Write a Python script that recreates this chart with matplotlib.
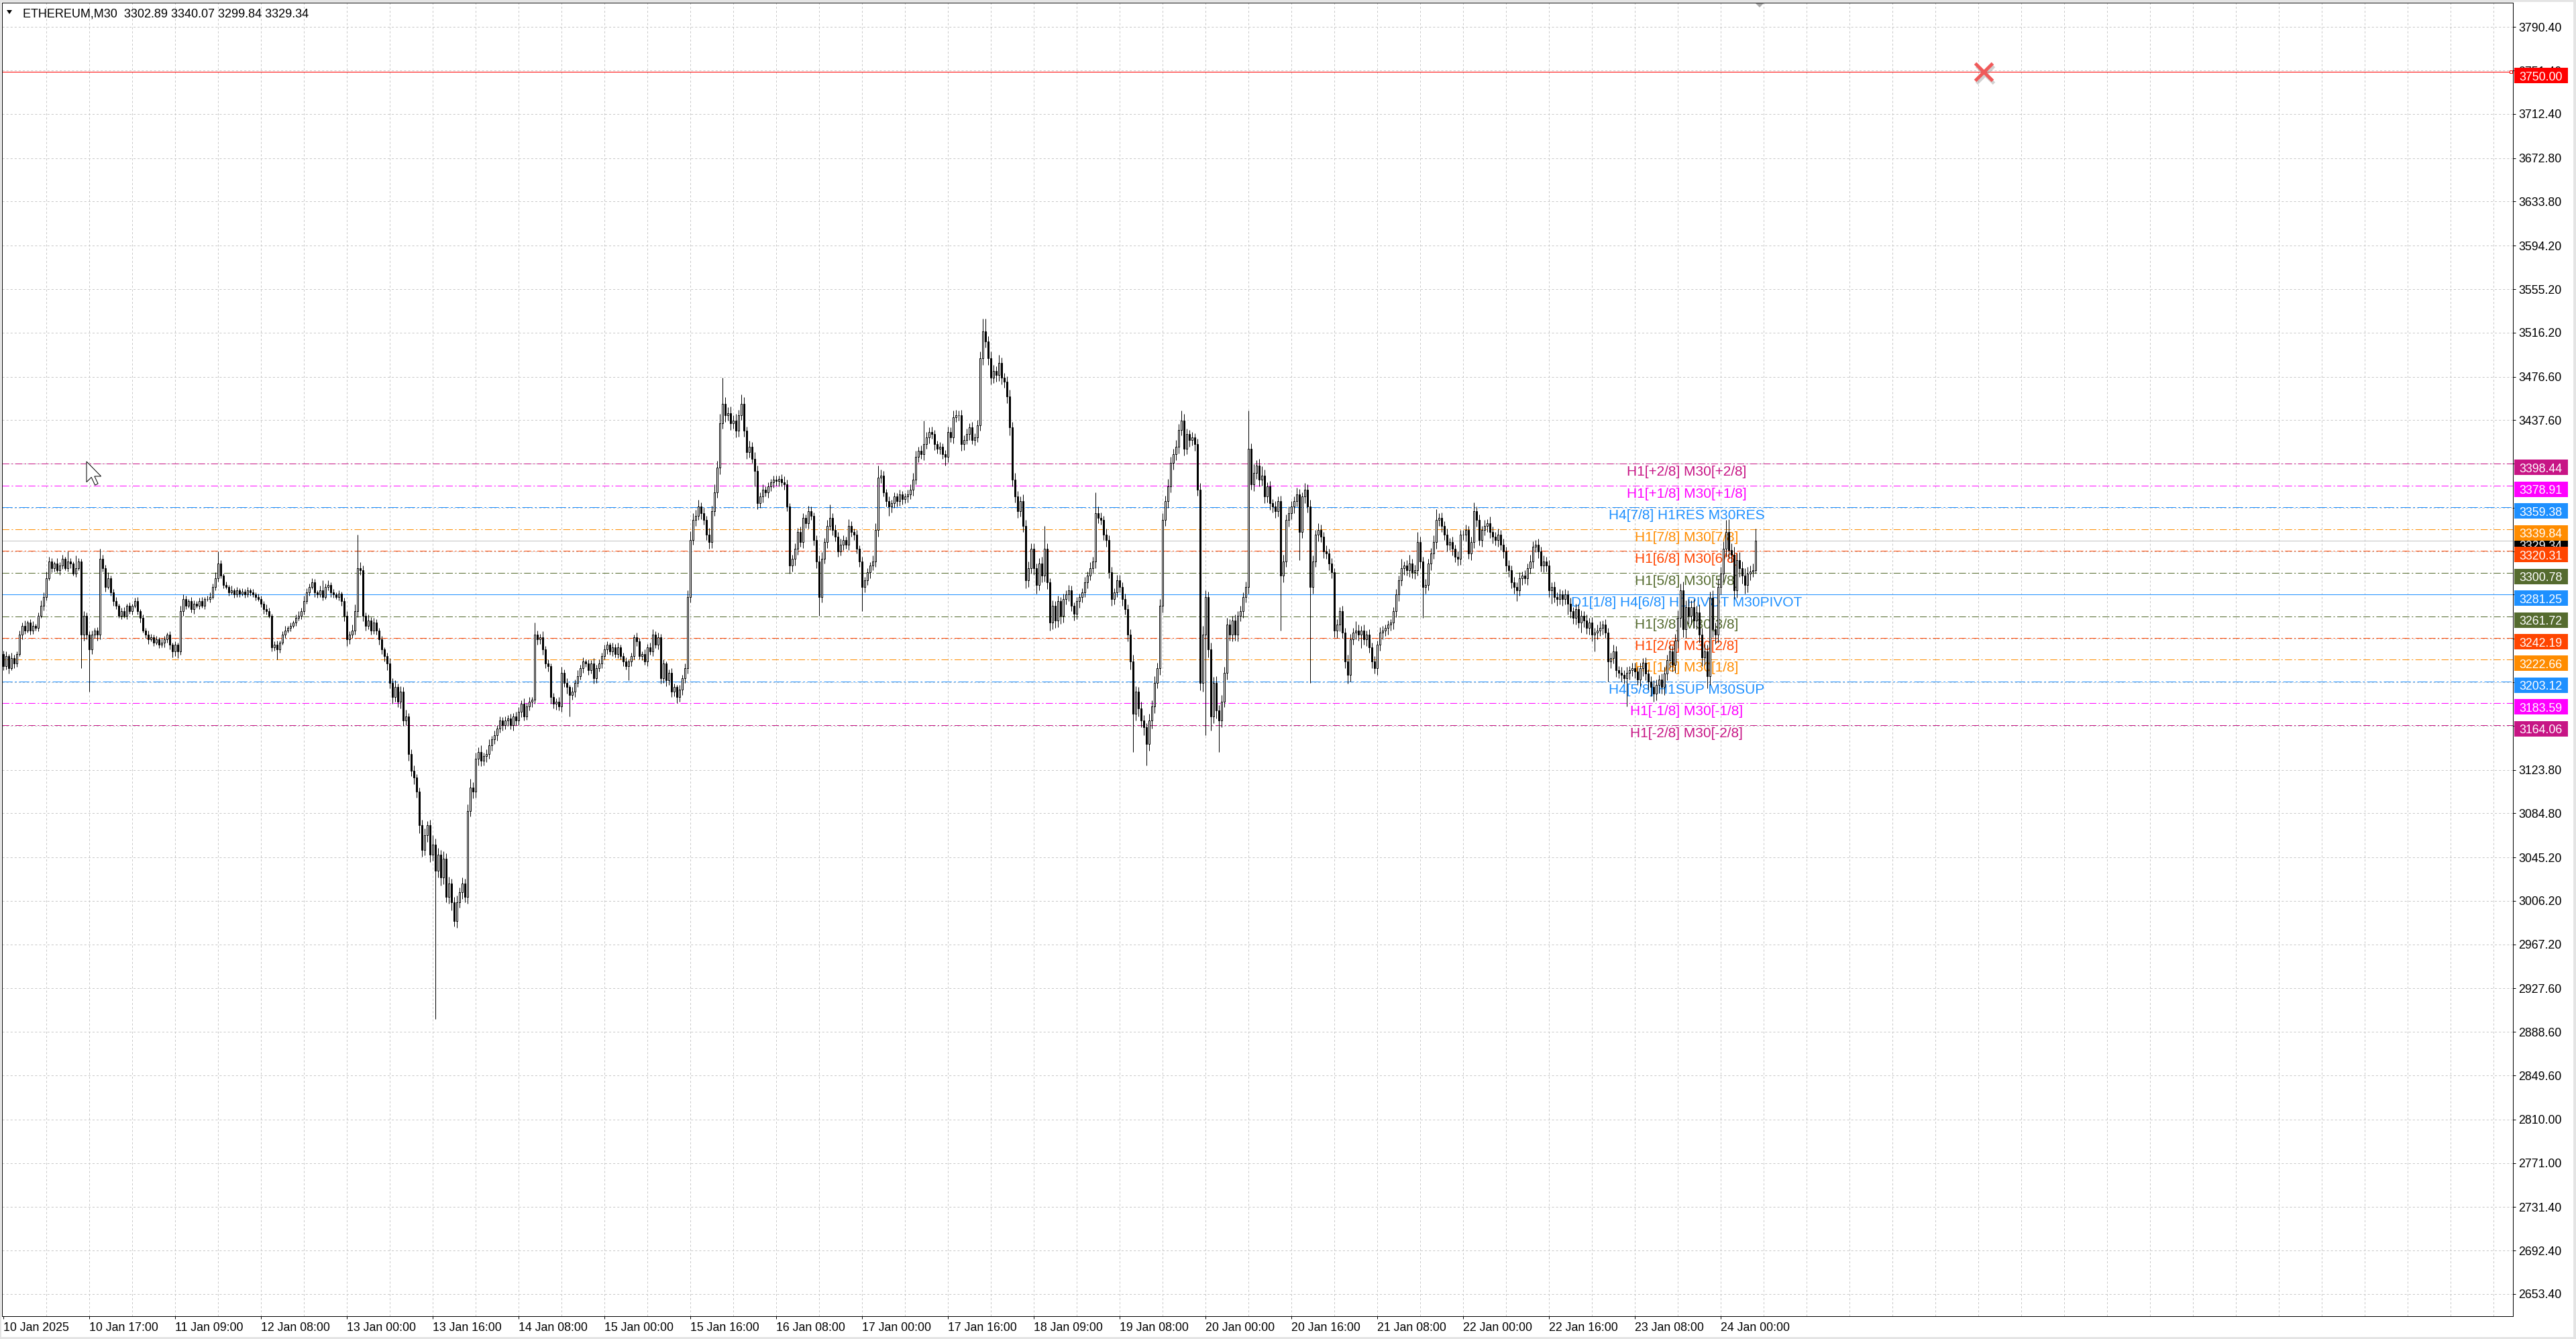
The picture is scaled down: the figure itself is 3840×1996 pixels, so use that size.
import matplotlib
matplotlib.use("Agg")
import matplotlib.pyplot as plt
import numpy as np
from matplotlib.patches import Rectangle, Polygon
from matplotlib.transforms import IdentityTransform, offset_copy

# --- Chart data (ETHEREUM, M30) ---
SYMBOL_LINE = "ETHEREUM,M30  3302.89 3340.07 3299.84 3329.34"
FIRST_OPEN = 3228
# closes per bar, 16 bars per row (one grid cell)
CLOSES = [
    3217, 3226, 3215, 3224, 3219, 3228, 3245, 3253, 3249, 3256, 3249, 3253, 3251, 3262, 3271, 3279,
    3296, 3311, 3305, 3309, 3303, 3307, 3313, 3305, 3311, 3309, 3300, 3305, 3311, 3245, 3262, 3245,
    3232, 3245, 3249, 3245, 3313, 3305, 3288, 3296, 3283, 3275, 3271, 3262, 3266, 3262, 3271, 3266,
    3271, 3275, 3266, 3260, 3249, 3245, 3241, 3243, 3238, 3241, 3236, 3238, 3241, 3245, 3236, 3230,
    3236, 3230, 3266, 3277, 3271, 3275, 3268, 3273, 3271, 3275, 3271, 3277, 3277, 3279, 3288, 3296,
    3309, 3298, 3290, 3288, 3283, 3285, 3281, 3285, 3282, 3284, 3281, 3285, 3283, 3281, 3279, 3277,
    3273, 3268, 3266, 3262, 3234, 3236, 3232, 3238, 3245, 3249, 3251, 3253, 3256, 3260, 3262, 3266,
    3275, 3283, 3288, 3292, 3283, 3281, 3285, 3279, 3288, 3290, 3283, 3281, 3279, 3282, 3275, 3262,
    3241, 3245, 3249, 3266, 3305, 3303, 3262, 3253, 3258, 3249, 3256, 3249, 3241, 3232, 3226, 3219,
    3202, 3189, 3198, 3185, 3194, 3168, 3172, 3138, 3123, 3117, 3104, 3074, 3052, 3065, 3074, 3048,
    3057, 3033, 3048, 3027, 3044, 3010, 3022, 3005, 2988, 3005, 3014, 3022, 3010, 3087, 3108, 3104,
    3134, 3140, 3132, 3136, 3138, 3146, 3151, 3155, 3161, 3168, 3164, 3168, 3170, 3164, 3172, 3168,
    3176, 3183, 3172, 3181, 3185, 3187, 3245, 3241, 3243, 3232, 3219, 3217, 3189, 3183, 3185, 3181,
    3211, 3202, 3198, 3191, 3194, 3202, 3208, 3215, 3221, 3219, 3213, 3219, 3206, 3215, 3219, 3226,
    3232, 3236, 3230, 3234, 3228, 3234, 3226, 3221, 3217, 3221, 3226, 3243, 3239, 3226, 3228, 3221,
    3234, 3230, 3245, 3236, 3243, 3206, 3219, 3204, 3211, 3194, 3198, 3189, 3196, 3206, 3215, 3279,
    3330, 3348, 3352, 3360, 3354, 3348, 3335, 3328, 3356, 3373, 3395, 3435, 3452, 3442, 3444, 3435,
    3437, 3428, 3442, 3452, 3428, 3409, 3414, 3403, 3392, 3363, 3369, 3375, 3373, 3378, 3382, 3384,
    3383, 3385, 3382, 3380, 3360, 3307, 3313, 3322, 3337, 3328, 3350, 3345, 3356, 3352, 3330, 3311,
    3279, 3313, 3328, 3343, 3350, 3339, 3333, 3320, 3326, 3330, 3326, 3343, 3337, 3335, 3322, 3311,
    3288, 3294, 3301, 3307, 3311, 3339, 3386, 3388, 3373, 3365, 3360, 3363, 3369, 3365, 3371, 3367,
    3369, 3371, 3375, 3384, 3405, 3410, 3407, 3416, 3422, 3427, 3425, 3416, 3412, 3414, 3407, 3405,
    3427, 3422, 3440, 3442, 3442, 3416, 3420, 3425, 3431, 3420, 3422, 3433, 3493, 3517, 3508, 3493,
    3476, 3482, 3478, 3489, 3476, 3472, 3459, 3431, 3384, 3369, 3356, 3365, 3343, 3294, 3305, 3322,
    3305, 3290, 3309, 3298, 3322, 3292, 3256, 3271, 3258, 3275, 3262, 3277, 3281, 3285, 3271, 3264,
    3275, 3279, 3283, 3292, 3298, 3305, 3311, 3354, 3350, 3348, 3335, 3330, 3301, 3277, 3283, 3294,
    3288, 3277, 3268, 3245, 3221, 3174, 3194, 3179, 3168, 3162, 3147, 3168, 3181, 3202, 3215, 3271,
    3348, 3365, 3378, 3399, 3407, 3414, 3429, 3437, 3412, 3425, 3420, 3422, 3416, 3375, 3202, 3245,
    3279, 3232, 3172, 3202, 3177, 3168, 3185, 3211, 3254, 3245, 3258, 3245, 3262, 3266, 3279, 3288,
    3412, 3380, 3390, 3397, 3384, 3388, 3369, 3378, 3363, 3360, 3356, 3365, 3298, 3311, 3348, 3354,
    3360, 3365, 3371, 3337, 3369, 3375, 3360, 3288, 3311, 3335, 3339, 3333, 3320, 3318, 3309, 3301,
    3249, 3254, 3266, 3247, 3221, 3209, 3241, 3247, 3249, 3245, 3249, 3241, 3245, 3234, 3221, 3215,
    3236, 3247, 3249, 3251, 3254, 3256, 3266, 3281, 3294, 3305, 3307, 3303, 3309, 3301, 3303, 3328,
    3311, 3288, 3290, 3309, 3318, 3328, 3348, 3350, 3343, 3335, 3326, 3328, 3322, 3315, 3313, 3335,
    3335, 3339, 3318, 3328, 3356, 3348, 3330, 3339, 3343, 3345, 3337, 3333, 3330, 3335, 3326, 3320,
    3307, 3303, 3292, 3288, 3285, 3296, 3298, 3296, 3305, 3311, 3324, 3326, 3320, 3307, 3311, 3307,
    3285, 3288, 3279, 3277, 3281, 3277, 3281, 3273, 3266, 3260, 3268, 3256, 3262, 3258, 3251, 3256,
    3245, 3247, 3249, 3251, 3254, 3247, 3221, 3224, 3230, 3213, 3211, 3209, 3206, 3211, 3213, 3215,
    3212, 3205, 3215, 3220, 3210, 3203, 3198, 3192, 3200, 3205, 3198, 3210, 3222, 3230, 3218, 3240,
    3260, 3285, 3250, 3270, 3262, 3270, 3258, 3265, 3245, 3225, 3230, 3208, 3278, 3250, 3245, 3288,
    3300, 3322, 3337, 3321, 3317, 3285, 3312, 3305, 3298, 3290, 3300, 3302, 3302.89, 3329.34,
]
# wick length above the body top / below the body bottom, per bar
UPPER_WICK = [
    3, 4, 2, 5, 3, 2, 4, 3, 5, 2, 3, 4, 2, 3, 5, 4,
    6, 4, 3, 2, 5, 3, 4, 2, 9, 3, 2, 11, 3, 2, 4, 3,
    3, 4, 2, 3, 9, 4, 3, 5, 2, 3, 4, 2, 3, 4, 2, 3,
    2, 3, 4, 2, 3, 2, 4, 3, 2, 3, 2, 4, 3, 2, 3, 2,
    3, 2, 5, 4, 3, 2, 4, 3, 2, 3, 4, 2, 3, 4, 3, 5,
    11, 3, 2, 3, 2, 4, 2, 3, 2, 3, 2, 3, 2, 3, 2, 3,
    3, 2, 4, 3, 2, 3, 4, 2, 3, 4, 2, 3, 2, 3, 4, 3,
    5, 4, 3, 4, 3, 2, 4, 9, 3, 4, 2, 3, 2, 3, 2, 3,
    4, 3, 5, 6, 30, 5, 4, 3, 5, 3, 4, 3, 2, 3, 2, 3,
    5, 4, 6, 3, 5, 4, 6, 3, 4, 5, 3, 4, 5, 6, 4, 5,
    8, 5, 6, 4, 7, 5, 6, 4, 5, 6, 4, 5, 4, 6, 8, 5,
    5, 4, 6, 3, 4, 5, 3, 4, 3, 4, 3, 4, 3, 4, 3, 4,
    4, 3, 5, 3, 4, 2, 11, 4, 3, 5, 3, 4, 2, 4, 3, 4,
    5, 3, 4, 2, 4, 3, 5, 3, 4, 2, 4, 3, 5, 3, 4, 3,
    4, 3, 2, 4, 3, 4, 2, 3, 4, 2, 3, 2, 4, 3, 2, 4,
    3, 4, 5, 3, 4, 3, 4, 2, 3, 4, 3, 2, 4, 3, 4, 6,
    8, 6, 5, 6, 4, 5, 4, 6, 5, 7, 6, 8, 24, 6, 5, 6,
    5, 6, 5, 9, 6, 4, 5, 4, 6, 5, 4, 5, 3, 4, 3, 4,
    4, 3, 4, 5, 4, 3, 4, 5, 4, 5, 4, 3, 5, 4, 3, 4,
    5, 6, 4, 5, 12, 4, 5, 4, 5, 4, 3, 6, 4, 3, 4, 3,
    4, 3, 4, 3, 5, 6, 11, 5, 4, 3, 4, 3, 4, 3, 4, 3,
    3, 4, 5, 6, 5, 4, 5, 21, 5, 4, 5, 4, 3, 4, 3, 4,
    5, 4, 6, 5, 4, 5, 4, 5, 4, 5, 4, 5, 6, 12, 12, 5,
    6, 5, 4, 7, 5, 4, 5, 6, 5, 6, 5, 4, 6, 5, 6, 5,
    5, 4, 5, 6, 21, 5, 4, 5, 4, 5, 4, 5, 4, 5, 4, 3,
    4, 3, 4, 5, 4, 5, 4, 19, 6, 5, 4, 5, 4, 5, 4, 5,
    5, 4, 5, 4, 5, 6, 5, 4, 6, 5, 4, 6, 5, 6, 5, 6,
    6, 5, 7, 6, 5, 6, 5, 9, 6, 5, 4, 5, 4, 5, 6, 8,
    6, 5, 6, 5, 6, 5, 6, 5, 6, 5, 4, 5, 4, 5, 4, 5,
    34, 5, 8, 5, 6, 8, 5, 4, 5, 4, 5, 4, 5, 6, 5, 6,
    5, 4, 6, 5, 4, 6, 5, 6, 5, 4, 6, 5, 4, 5, 4, 5,
    4, 5, 4, 5, 4, 6, 5, 4, 8, 5, 4, 5, 4, 5, 4, 5,
    4, 5, 4, 3, 4, 3, 4, 5, 4, 8, 4, 5, 8, 4, 5, 9,
    5, 4, 5, 4, 5, 6, 10, 4, 5, 4, 5, 4, 5, 4, 5, 4,
    4, 5, 4, 5, 8, 4, 5, 4, 5, 4, 6, 5, 4, 5, 4, 5,
    4, 5, 4, 5, 4, 5, 4, 5, 4, 6, 5, 4, 5, 4, 5, 4,
    5, 4, 5, 4, 5, 4, 5, 4, 5, 4, 5, 4, 5, 4, 5, 4,
    5, 4, 5, 6, 4, 5, 4, 5, 6, 5, 4, 5, 4, 5, 4, 5,
    5, 4, 5, 4, 5, 4, 5, 6, 5, 4, 5, 6, 5, 6, 5, 6,
    7, 6, 8, 6, 7, 6, 7, 6, 7, 6, 7, 6, 6, 7, 6, 7,
    6, 7, 11, 12, 6, 7, 6, 7, 6, 7, 6, 5, 6, 10.73,
]
LOWER_WICK = [
    4, 3, 5, 2, 4, 3, 2, 4, 3, 2, 4, 3, 2, 3, 2, 4,
    3, 2, 4, 3, 2, 4, 3, 2, 3, 4, 2, 3, 2, 30, 5, 4,
    38, 4, 3, 5, 4, 3, 4, 2, 3, 4, 3, 2, 3, 2, 3, 2,
    3, 2, 3, 4, 2, 3, 4, 2, 3, 2, 3, 2, 4, 3, 4, 5,
    4, 6, 3, 4, 3, 2, 3, 4, 2, 3, 2, 3, 2, 3, 2, 3,
    3, 2, 3, 2, 3, 2, 3, 2, 3, 2, 3, 2, 3, 2, 3, 2,
    3, 4, 3, 2, 4, 3, 9, 3, 2, 3, 2, 3, 2, 3, 2, 3,
    3, 2, 3, 2, 4, 3, 2, 3, 2, 3, 4, 3, 2, 3, 4, 5,
    6, 4, 3, 4, 5, 4, 5, 4, 3, 4, 3, 4, 5, 4, 5, 6,
    5, 6, 4, 5, 6, 5, 4, 6, 5, 6, 5, 7, 6, 5, 6, 7,
    6, 133, 6, 7, 6, 5, 6, 7, 5, 6, 5, 6, 5, 6, 5, 6,
    5, 6, 5, 4, 5, 4, 5, 4, 5, 4, 5, 4, 5, 4, 5, 4,
    4, 5, 4, 3, 4, 5, 4, 5, 4, 5, 4, 5, 6, 4, 5, 4,
    5, 4, 6, 19, 4, 5, 4, 3, 4, 3, 4, 3, 5, 4, 3, 4,
    3, 4, 3, 4, 3, 4, 3, 4, 3, 13, 4, 3, 4, 3, 4, 3,
    4, 3, 4, 3, 4, 5, 4, 5, 4, 5, 4, 5, 4, 5, 4, 5,
    5, 4, 5, 4, 5, 4, 5, 6, 5, 4, 5, 6, 5, 6, 5, 6,
    5, 6, 5, 4, 5, 6, 5, 4, 14, 5, 4, 5, 4, 5, 4, 5,
    4, 5, 4, 5, 4, 7, 5, 6, 5, 4, 5, 4, 5, 4, 5, 6,
    17, 5, 4, 5, 4, 5, 4, 5, 4, 5, 4, 5, 4, 5, 4, 5,
    22, 5, 4, 5, 4, 5, 6, 5, 4, 5, 8, 5, 4, 5, 4, 5,
    4, 5, 4, 5, 4, 5, 4, 5, 4, 5, 4, 5, 4, 5, 4, 8,
    5, 4, 5, 4, 5, 6, 5, 4, 5, 4, 5, 4, 5, 6, 5, 6,
    6, 5, 6, 5, 6, 5, 6, 7, 6, 5, 6, 5, 6, 7, 6, 5,
    6, 8, 5, 6, 5, 6, 7, 6, 7, 6, 7, 6, 5, 6, 5, 6,
    5, 6, 5, 4, 5, 4, 5, 6, 5, 4, 5, 6, 5, 6, 5, 4,
    5, 6, 5, 6, 7, 34, 6, 7, 6, 7, 19, 6, 7, 6, 5, 6,
    6, 5, 6, 5, 6, 5, 6, 5, 6, 5, 6, 5, 6, 5, 7, 8,
    90, 7, 13, 6, 7, 28, 6, 5, 6, 5, 6, 5, 6, 5, 6, 5,
    6, 5, 6, 5, 6, 5, 6, 5, 6, 5, 6, 5, 49, 6, 5, 6,
    5, 6, 5, 25, 5, 6, 5, 86, 6, 5, 6, 5, 6, 5, 6, 5,
    6, 7, 6, 5, 6, 8, 6, 5, 6, 5, 12, 5, 6, 5, 6, 5,
    6, 5, 6, 5, 6, 5, 6, 5, 6, 5, 6, 5, 6, 5, 6, 5,
    6, 28, 6, 5, 6, 5, 6, 5, 6, 5, 6, 5, 6, 5, 6, 5,
    5, 6, 5, 6, 5, 6, 5, 6, 5, 6, 5, 6, 5, 6, 5, 6,
    5, 6, 5, 6, 10, 5, 6, 5, 6, 5, 6, 5, 6, 5, 6, 5,
    6, 12, 5, 6, 5, 6, 5, 10, 6, 5, 6, 5, 9, 6, 5, 6,
    6, 15, 6, 5, 6, 5, 18, 6, 5, 6, 5, 6, 5, 25, 6, 5,
    6, 5, 6, 7, 6, 7, 8, 7, 6, 7, 6, 7, 6, 7, 6, 7,
    7, 8, 7, 8, 7, 8, 7, 8, 7, 8, 7, 11, 8, 7, 8, 7,
    7, 8, 7, 8, 7, 8, 7, 8, 7, 8, 7, 6, 5, 3.05,
]
LAST_PRICE = 3329.34
ALERT_PRICE = 3750.00

LEVEL_PRICES = [3398.44, 3378.91, 3359.38, 3339.84, 3320.31, 3300.78, 3281.25,
                3261.72, 3242.19, 3222.66, 3203.12, 3183.59, 3164.06]
LEVEL_LABELS = ["H1[+2/8] M30[+2/8]", "H1[+1/8] M30[+1/8]", "H4[7/8] H1RES M30RES",
                "H1[7/8] M30[7/8]", "H1[6/8] M30[6/8]", "H1[5/8] M30[5/8]",
                "D1[1/8] H4[6/8] H1PIVOT M30PIVOT", "H1[3/8] M30[3/8]", "H1[2/8] M30[2/8]",
                "H1[1/8] M30[1/8]", "H4[5/8] H1SUP M30SUP", "H1[-1/8] M30[-1/8]",
                "H1[-2/8] M30[-2/8]"]

PRICE_TICKS = [3790.40, 3751.40, 3712.40, 3672.80, 3633.80, 3594.20, 3555.20, 3516.20,
               3476.60, 3437.60, 3398.60, 3359.00, 3320.00, 3281.00, 3241.80, 3202.60,
               3163.40, 3123.80, 3084.80, 3045.20, 3006.20, 2967.20, 2927.60, 2888.60,
               2849.60, 2810.00, 2771.00, 2731.40, 2692.40, 2653.40]
TIME_TICK_BARS = [0, 32, 64, 96, 128, 160, 192, 224, 256, 288, 320, 352, 384, 416,
                  448, 480, 512, 544, 576, 608, 640]
TIME_TICK_LABELS = ["10 Jan 2025", "10 Jan 17:00", "11 Jan 09:00", "12 Jan 08:00",
                    "13 Jan 00:00", "13 Jan 16:00", "14 Jan 08:00", "15 Jan 00:00",
                    "15 Jan 16:00", "16 Jan 08:00", "17 Jan 00:00", "17 Jan 16:00",
                    "18 Jan 09:00", "19 Jan 08:00", "20 Jan 00:00", "20 Jan 16:00",
                    "21 Jan 08:00", "22 Jan 00:00", "22 Jan 16:00", "23 Jan 08:00",
                    "24 Jan 00:00"]

# --- Styles ---
LEVEL_COLORS = ["#C71585", "#FF00FF", "#1E90FF", "#FF8C00", "#FF4500", "#556B2F", "#1E90FF",
                "#556B2F", "#FF4500", "#FF8C00", "#1E90FF", "#FF00FF", "#C71585"]
DASHDOT = (0, (7.5, 2.5, 1.5, 2.5))
LONG_DASHDOT = (0, (11, 2.5, 2, 2.5))
LEVEL_STYLES = [DASHDOT, DASHDOT, LONG_DASHDOT, DASHDOT, DASHDOT, DASHDOT, "solid",
                DASHDOT, DASHDOT, DASHDOT, LONG_DASHDOT, DASHDOT, DASHDOT]
GRID_COLOR = "#C8C8C8"
FONT = ["Liberation Sans", "DejaVu Sans"]

plt.rcParams["font.family"] = FONT
plt.rcParams["lines.scale_dashes"] = False

# --- Figure geometry in pixels ---
W, H, DPI = 3840, 1996, 100
AX_L, AX_R, AX_T, AX_B = 3, 3746, 4, 1962
PX = 72.0 / DPI  # one pixel in points

fig = plt.figure(figsize=(W / DPI, H / DPI), dpi=DPI, facecolor="white")
ax = fig.add_axes([AX_L / W, 1 - AX_B / H, (AX_R - AX_L) / W, (AX_B - AX_T) / H])
ax.set_facecolor("white")
ax.set_xlim(-0.5, 935.25)
ax.set_ylim(2633.5, 3812.3)

# grid
ax.vlines(np.arange(16, 935, 16), 2633.5, 3812.3, colors=GRID_COLOR,
          linestyles=[(0, (2.2, 2.2))], linewidth=PX, zorder=0.5)
ax.hlines(PRICE_TICKS, -0.5, 935.25, colors=GRID_COLOR,
          linestyles=[(0, (2.2, 2.2))], linewidth=PX, zorder=0.5)

# level lines and labels
for price, label, color, style in zip(LEVEL_PRICES, LEVEL_LABELS, LEVEL_COLORS, LEVEL_STYLES):
    ax.axhline(price, color=color, linestyle=style, linewidth=PX, zorder=1)
    ax.text(627.25, price, label, color=color, fontsize=15, ha="center", va="top",
            transform=offset_copy(ax.transData, fig=fig, y=-3, units="dots"), zorder=2)

ax.axhline(LAST_PRICE, color="#C0C0C0", linewidth=PX, zorder=1.2)
ax.axhline(ALERT_PRICE, color="#FF0000", linewidth=PX, zorder=1.2)
ax.plot([934.5], [ALERT_PRICE], marker="s", markersize=3, mfc="white", mec="#FF0000",
        mew=PX, zorder=3)

# red cross on the alert line
ax.plot([738], [ALERT_PRICE], marker="x", markersize=19, mew=3.6, color="#9A9A9A", alpha=0.45,
        transform=offset_copy(ax.transData, fig=fig, x=2, y=-4, units="dots"), zorder=3)
ax.plot([738], [ALERT_PRICE], marker="x", markersize=19, mew=3.6, color="#F05A5A", zorder=3.1)

# candles
closes = np.array(CLOSES, dtype=float)
opens = np.concatenate([[FIRST_OPEN], closes[:-1]])
xs = np.arange(len(closes))
top = np.maximum(opens, closes)
bot = np.minimum(opens, closes)
highs = top + np.array(UPPER_WICK, dtype=float)
lows = bot - np.array(LOWER_WICK, dtype=float)
ax.vlines(xs, lows, highs, colors="black", linewidth=PX, zorder=4)
bull = closes >= opens
ax.bar(xs[bull], (top - bot)[bull], bottom=bot[bull], width=0.55, facecolor="white",
       edgecolor="black", linewidth=PX, zorder=5)
ax.bar(xs[~bull], (top - bot)[~bull], bottom=bot[~bull], width=0.55, facecolor="black",
       edgecolor="black", linewidth=PX, zorder=5)

# axes / ticks
for sp in ax.spines.values():
    sp.set_color("black")
    sp.set_linewidth(PX)
ax.yaxis.tick_right()
ax.set_yticks(PRICE_TICKS)
ax.set_yticklabels([f"{v:.2f}" for v in PRICE_TICKS])
ax.set_xticks(TIME_TICK_BARS)
ax.set_xticklabels(TIME_TICK_LABELS)
for lbl in ax.get_xticklabels():
    lbl.set_horizontalalignment("left")
ax.tick_params(axis="y", direction="out", length=3, width=PX, pad=3, labelsize=12.8,
               colors="black")
ax.tick_params(axis="x", direction="out", length=3, width=PX, pad=3.5, labelsize=12.8,
               colors="black")

# --- Price boxes on the right scale (drawn in pixel space) ---
ident = IdentityTransform()


def line_y(price):
    return ax.transData.transform((0, price))[1]


def price_box(price, color, z):
    yd = line_y(price)
    fig.add_artist(Rectangle((3748, yd - 17), 80, 23, transform=ident, facecolor=color,
                             edgecolor="none", zorder=z))
    fig.text(3755, yd - 12.6, f"{price:.2f}", color="white", fontsize=12.8, ha="left",
             va="baseline", transform=ident, zorder=z + 0.5)


price_box(LAST_PRICE, "black", 1)
for price, color in zip(LEVEL_PRICES, LEVEL_COLORS):
    price_box(price, color, 2)
price_box(ALERT_PRICE, "#FF0000", 2)

# header
fig.add_artist(Polygon([(10, H - 15), (18, H - 15), (14, H - 21)], closed=True,
                       transform=ident, facecolor="black", edgecolor="none", zorder=3))
fig.text(34, H - 26, SYMBOL_LINE, fontsize=13, color="black", ha="left", va="baseline",
         transform=ident, zorder=3)

# chart shift marker
fig.add_artist(Polygon([(2617, H - 5), (2629, H - 5), (2623, H - 11)], closed=True,
                       transform=ident, facecolor="#A8A8A8", edgecolor="none", zorder=3))

# mouse cursor
tip_x, tip_y, s = 129, 688, 1.8
arrow = [(0, 0), (0, 17), (4, 13), (7, 19.5), (9.5, 18.3), (6.6, 12.2), (12, 12.2)]
fig.add_artist(Polygon([(tip_x + px * s, H - (tip_y + py * s)) for px, py in arrow],
                       closed=True, transform=ident, facecolor="white", edgecolor="black",
                       linewidth=PX, zorder=3))

# window frame
for rect in [(0, H - 3, W, 3), (0, 0, W, 3), (W - 4, 0, 4, H), (0, 0, 2, H)]:
    fig.add_artist(Rectangle(rect[:2], rect[2], rect[3], transform=ident,
                             facecolor="#E4E4E4", edgecolor="none", zorder=0.5))

fig.savefig("out.png", dpi=DPI, facecolor="white")
